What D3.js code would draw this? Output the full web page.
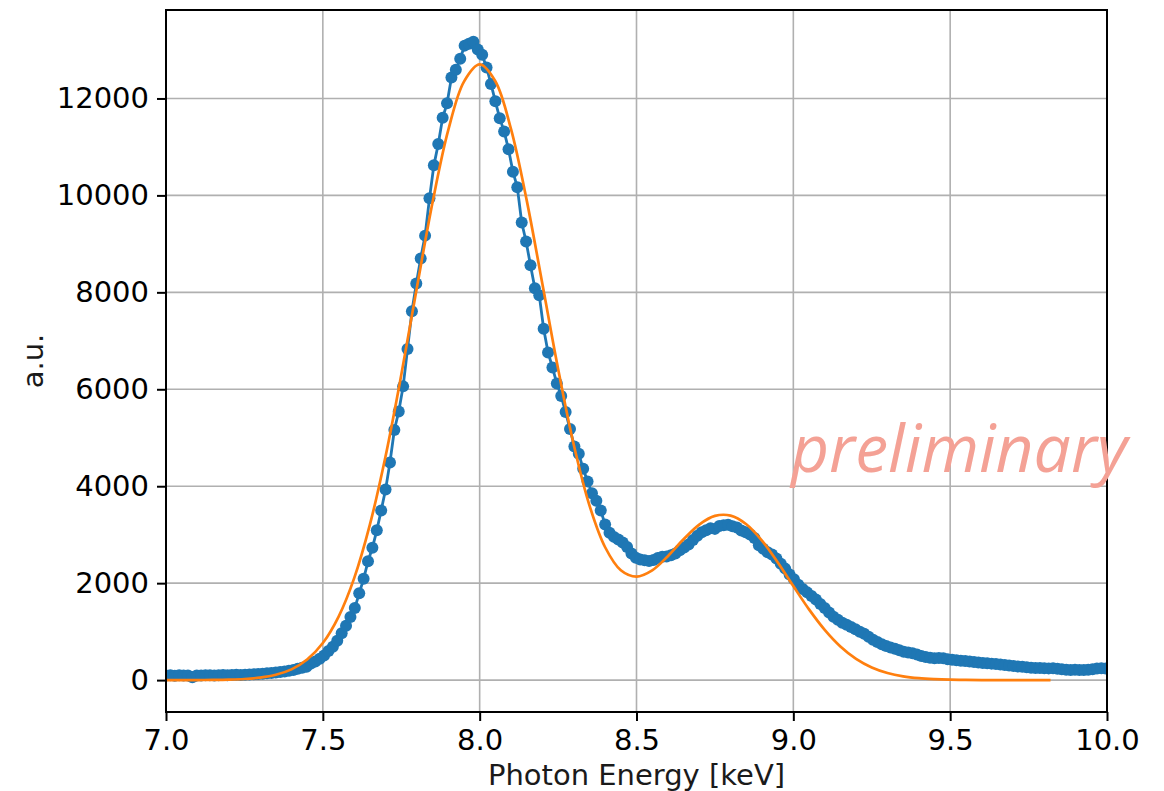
<!DOCTYPE html>
<html>
<head>
<meta charset="utf-8">
<script src="https://cdn.jsdelivr.net/npm/d3@7"></script>
<style>
  body { margin: 0; background: #fff; }
  svg text { font-family: "DejaVu Sans", sans-serif; fill: #000; }
</style>
</head>
<body>
<div id="chart"></div>
<script>
// measured spectrum (blue points)
var energy = [
  7.000,7.014,7.028,7.042,7.056,7.070,7.084,7.098,7.112,7.126,
  7.140,7.154,7.168,7.182,7.196,7.210,7.224,7.238,7.252,7.266,
  7.280,7.294,7.308,7.322,7.336,7.350,7.364,7.378,7.392,7.406,
  7.420,7.434,7.448,7.462,7.476,7.490,7.504,7.518,7.532,7.546,
  7.560,7.574,7.588,7.602,7.616,7.630,7.644,7.658,7.672,7.686,
  7.700,7.714,7.728,7.742,7.756,7.770,7.784,7.798,7.812,7.826,
  7.840,7.854,7.868,7.882,7.896,7.910,7.924,7.938,7.952,7.966,
  7.980,7.994,8.008,8.022,8.036,8.050,8.064,8.078,8.092,8.106,
  8.120,8.134,8.148,8.162,8.176,8.190,8.204,8.218,8.232,8.246,
  8.260,8.274,8.288,8.302,8.316,8.330,8.344,8.358,8.372,8.386,
  8.400,8.414,8.428,8.442,8.456,8.470,8.484,8.498,8.512,8.526,
  8.540,8.554,8.568,8.582,8.596,8.610,8.624,8.638,8.652,8.666,
  8.680,8.694,8.708,8.722,8.736,8.750,8.764,8.778,8.792,8.806,
  8.820,8.834,8.848,8.862,8.876,8.890,8.904,8.918,8.932,8.946,
  8.960,8.974,8.988,9.002,9.016,9.030,9.044,9.058,9.072,9.086,
  9.100,9.114,9.128,9.142,9.156,9.170,9.184,9.198,9.212,9.226,
  9.240,9.254,9.268,9.282,9.296,9.310,9.324,9.338,9.352,9.366,
  9.380,9.394,9.408,9.422,9.436,9.450,9.464,9.478,9.492,9.506,
  9.520,9.534,9.548,9.562,9.576,9.590,9.604,9.618,9.632,9.646,
  9.660,9.674,9.688,9.702,9.716,9.730,9.744,9.758,9.772,9.786,
  9.800,9.814,9.828,9.842,9.856,9.870,9.884,9.898,9.912,9.926,
  9.940,9.954,9.968,9.982,9.996
];
var counts = [
  95,98,92,100,96,94,60,97,93,99,
  102,96,100,104,98,103,108,105,112,118,
  122,128,132,140,148,158,168,178,195,210,
  232,255,277,340,385,440,510,600,690,810,
  968,1120,1300,1490,1790,2090,2450,2730,3090,3500,
  3930,4490,5160,5540,6060,6830,7610,8180,8700,9170,
  9940,10620,11060,11600,11900,12430,12590,12820,13090,13130,
  13170,13010,12900,12640,12300,11940,11590,11320,10950,10490,
  10170,9440,9050,8560,8084,7940,7250,6760,6450,6120,
  5860,5530,5180,4820,4670,4360,4100,3855,3700,3500,
  3210,3040,2955,2900,2840,2745,2610,2525,2490,2475,
  2455,2480,2520,2545,2550,2575,2610,2680,2735,2800,
  2890,2980,3050,3090,3135,3120,3180,3195,3205,3175,
  3150,3085,3050,3005,2930,2780,2710,2640,2590,2510,
  2400,2300,2180,2080,1965,1880,1810,1735,1665,1570,
  1490,1395,1305,1245,1185,1140,1095,1050,1000,955,
  895,835,785,740,705,675,645,615,585,570,
  555,530,495,478,462,452,455,450,432,418,
  410,400,392,382,372,365,355,348,340,330,
  320,310,300,292,282,275,265,255,248,250,
  245,242,245,232,222,215,210,212,208,210,
  215,225,238,245,240
];

// fitted curve (orange)
var fitEnergy = [
  7.00,7.05,7.10,7.15,7.20,7.25,7.30,7.35,7.40,7.45,
  7.50,7.55,7.60,7.65,7.70,7.75,7.80,7.85,7.90,7.95,
  8.00,8.05,8.10,8.15,8.20,8.25,8.30,8.35,8.40,8.45,
  8.50,8.55,8.60,8.65,8.70,8.75,8.80,8.85,8.90,8.95,
  9.00,9.05,9.10,9.15,9.20,9.25,9.30,9.35,9.40,9.45,
  9.50,9.55,9.60,9.65,9.70,9.75,9.80,9.82
];
var fitCounts = [
  0,1,1,4,10,23,52,110,222,424,
  765,1306,2104,3207,4620,6293,8103,9863,11350,12348,
  12703,12355,11366,9897,8172,6424,4855,3605,2741,2267,
  2134,2264,2557,2905,3209,3388,3394,3216,2878,2431,
  1939,1459,1037,695,439,262,148,78,39,19,
  8,3,1,0,0,0,0,0
];

var xTicks = [7.0, 7.5, 8.0, 8.5, 9.0, 9.5, 10.0];
var yTicks = [0, 2000, 4000, 6000, 8000, 10000, 12000];

var margin = {top: 10, right: 57, bottom: 79, left: 166};
var width = 1164 - margin.left - margin.right;
var height = 791 - margin.top - margin.bottom;
var fontSize = "29px";

var x = d3.scaleLinear().domain([7, 10]).range([0, width]);
var y = d3.scaleLinear().domain([-658, 13825]).range([height, 0]);

var svgRoot = d3.select("#chart").append("svg")
    .attr("width", 1164)
    .attr("height", 791);

var svg = svgRoot.append("g")
    .attr("transform", "translate(" + margin.left + "," + margin.top + ")");

svg.append("clipPath")
    .attr("id", "plotclip")
  .append("rect")
    .attr("width", width)
    .attr("height", height);

// grid
svg.selectAll("line.vgrid")
    .data(xTicks)
    .enter()
    .append("line")
    .attr("x1", function(d){ return x(d); })
    .attr("x2", function(d){ return x(d); })
    .attr("y1", 0)
    .attr("y2", height)
    .attr("stroke", "#b0b0b0")
    .attr("stroke-width", 1.6);

svg.selectAll("line.hgrid")
    .data(yTicks)
    .enter()
    .append("line")
    .attr("x1", 0)
    .attr("x2", width)
    .attr("y1", function(d){ return y(d); })
    .attr("y2", function(d){ return y(d); })
    .attr("stroke", "#b0b0b0")
    .attr("stroke-width", 1.6);

var plot = svg.append("g").attr("clip-path", "url(#plotclip)");

var dataPts = energy.map(function(e, i){ return {e: e, c: counts[i]}; });
var fitPts = fitEnergy.map(function(e, i){ return {e: e, c: fitCounts[i]}; });

var line = d3.line()
    .x(function(d){ return x(d.e); })
    .y(function(d){ return y(d.c); });

// measured line + markers
plot.append("path")
    .datum(dataPts)
    .attr("fill", "none")
    .attr("stroke", "#1f77b4")
    .attr("stroke-width", 2.8)
    .attr("d", line);

plot.selectAll("circle")
    .data(dataPts)
    .enter()
    .append("circle")
    .attr("fill", "#1f77b4")
    .attr("r", 6)
    .attr("cx", function(d){ return x(d.e); })
    .attr("cy", function(d){ return y(d.c); });

// fit
var fitLine = d3.line()
    .x(function(d){ return x(d.e); })
    .y(function(d){ return y(d.c); })
    .curve(d3.curveCatmullRom.alpha(0.5));

plot.append("path")
    .datum(fitPts)
    .attr("fill", "none")
    .attr("stroke", "#ff7f0e")
    .attr("stroke-width", 2.7)
    .attr("d", fitLine);

// axes
var xAxis = d3.axisBottom(x).tickValues(xTicks).tickFormat(d3.format(".1f"))
    .tickSize(9).tickPadding(8);
var yAxis = d3.axisLeft(y).tickValues(yTicks).tickFormat(d3.format("d"))
    .tickSize(9).tickPadding(8);

var gx = svg.append("g")
    .attr("transform", "translate(0," + height + ")")
    .call(xAxis);
var gy = svg.append("g")
    .call(yAxis);

[gx, gy].forEach(function(g){
  g.select(".domain").remove();
  g.selectAll(".tick line").attr("stroke", "#000").attr("stroke-width", 2);
  g.selectAll(".tick text")
      .style("font-family", "DejaVu Sans")
      .style("font-size", fontSize)
      .attr("fill", "#1a1a1a");
});

// frame
svg.append("rect")
    .attr("width", width)
    .attr("height", height)
    .attr("fill", "none")
    .attr("stroke", "#000")
    .attr("stroke-width", 2);

// labels
svg.append("text")
    .attr("x", width / 2)
    .attr("y", height + 73)
    .attr("text-anchor", "middle")
    .style("font-size", fontSize)
    .style("fill", "#1a1a1a")
    .text("Photon Energy [keV]");

svg.append("text")
    .attr("transform", "translate(-123," + (height / 2) + ") rotate(-90)")
    .attr("text-anchor", "middle")
    .style("font-size", fontSize)
    .style("fill", "#1a1a1a")
    .text("a.u.");

// watermark
svgRoot.append("text")
    .attr("x", 791)
    .attr("y", 472)
    .style("font-family", "'Open Sans', sans-serif")
    .style("font-style", "italic")
    .style("font-size", "66px")
    .style("fill", "#f4a195")
    .text("preliminary");
</script>
</body>
</html>
